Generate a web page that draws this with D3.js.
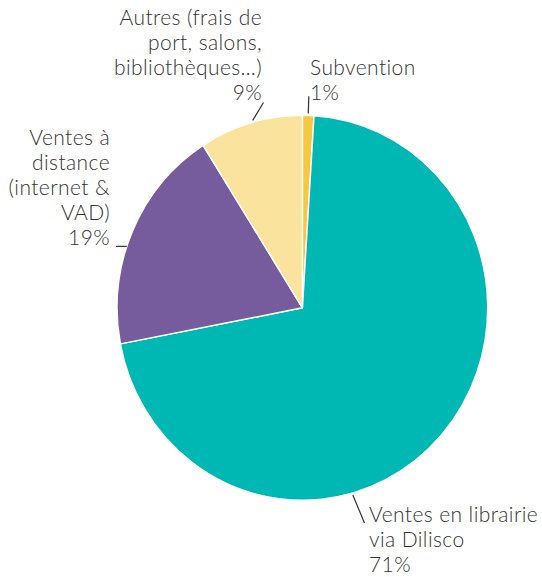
<!DOCTYPE html>
<html>
<head>
<meta charset="utf-8">
<script src="https://cdn.jsdelivr.net/npm/d3@7"></script>
<style>
  body { margin: 0; background: #fff; }
  #pie text { font-family: Lato, "Open Sans", sans-serif; font-weight: 300; font-size: 21px; letter-spacing: 0.4px; fill: #333; }
</style>
</head>
<body>
<div id="pie"></div>
<script>
// slices, clockwise from 12 o'clock
var categories = ["Subvention", "Ventes en librairie via Dilisco", "Ventes à distance (internet & VAD)", "Autres (frais de port, salons, bibliothèques…)"];
var values = [1, 71, 19, 9];
var labelLines = [
    ["Subvention"],
    ["Ventes en librairie", "via Dilisco"],
    ["Ventes à", "distance", "(internet &", "VAD)"],
    ["Autres (frais de", "port, salons,", "bibliothèques…)"]
];
var colors = ["#f5c93f", "#00b8b3", "#765c9d", "#f9e39d"];

var width = 542, height = 577;
var cx = 302.4, cy = 307.8, rx = 185.3, ry = 192.5;
var lineH = 25;

// label placement + leader line (frac = where along the slice arc the leader starts)
var labelPos = [
    {x: 310, y: 75, anchor: "start", frac: 0.5, r0: 1.01, r1: 1.1},
    {x: 369, y: 522, anchor: "start", frac: 0.629, r0: 1.01, end: [364.5, 523]},
    {x: 110, y: 145, anchor: "end", frac: 0.43, r0: 1.0, end: [116, null]},
    {x: 262, y: 25, anchor: "end", frac: 0.525, r0: 1.01, end: [263.5, 102.5]}
];

var svg = d3.select("#pie").append("svg")
    .attr("width", width)
    .attr("height", height);

var pie = d3.pie().sort(null).value(function(d) { return d; });
var arcs = pie(values);

var arc = d3.arc().innerRadius(0).outerRadius(ry);

// chart is slightly narrower than tall, so squash the circle
var g = svg.append("g")
    .attr("transform", "translate(" + cx + "," + cy + ") scale(" + (rx / ry) + ",1)");

g.selectAll("path")
    .data(arcs).enter()
    .append("path")
    .attr("d", arc)
    .attr("fill", function(d, i) { return colors[i]; })
    .attr("stroke", "#fff")
    .attr("stroke-width", 1.5)
    .attr("stroke-linejoin", "round");

function onEdge(a, r) {
    return [cx + rx * r * Math.sin(a), cy - ry * r * Math.cos(a)];
}

var labels = svg.append("g");

arcs.forEach(function(d, i) {
    var p = labelPos[i];
    var a = d.startAngle + p.frac * (d.endAngle - d.startAngle);
    var p0 = onEdge(a, p.r0);
    var p1;
    if (p.end) {
        p1 = [p.end[0], p.end[1] == null ? p0[1] : p.end[1]];
    } else {
        p1 = onEdge(a, p.r1);
    }
    labels.append("line")
        .attr("x1", p0[0]).attr("y1", p0[1])
        .attr("x2", p1[0]).attr("y2", p1[1])
        .attr("stroke", "#333")
        .attr("stroke-width", 1.2);

    var lines = labelLines[i].concat([values[i] + "%"]);
    var t = labels.append("text")
        .attr("text-anchor", p.anchor);
    lines.forEach(function(s, j) {
        t.append("tspan")
            .attr("x", p.x)
            .attr("y", p.y + j * lineH)
            .text(s);
    });
});
</script>
</body>
</html>
